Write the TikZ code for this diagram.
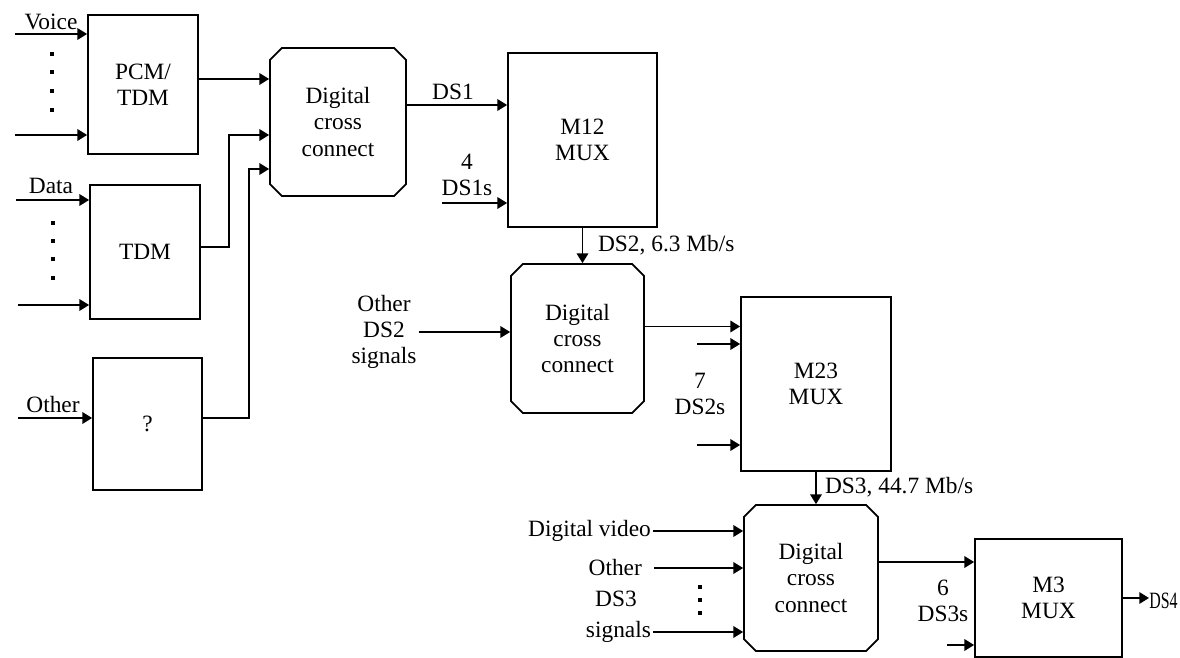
\documentclass[tikz,border=0pt]{standalone}
\usepackage{fontspec}
\setmainfont{Liberation Serif}
\usetikzlibrary{arrows.meta,shapes.misc,calc}

\begin{document}
\begin{tikzpicture}[
    x=0.02cm, y=-0.02cm,
    every node/.style={font=\fontsize{13.3}{15}\selectfont},
    block/.style={rectangle,draw,line width=1pt,align=center,inner sep=0pt},
    xconn/.style={chamfered rectangle,chamfered rectangle xsep=0.13cm,draw,line width=1pt,align=center,inner sep=0pt},
    lbl/.style={align=center,inner sep=1pt},
    arrow/.style={line width=1pt,-{Triangle[length=5.5pt,width=6.5pt]}}
]
    \useasboundingbox (0,0) rectangle (1180,658);

    % Sources
    \node[block,minimum width=2.2cm,minimum height=2.78cm] (pcm) at (143,84.5) {PCM/\\TDM};
    \node[block,minimum width=2.2cm,minimum height=2.68cm] (tdm) at (145,252) {TDM};
    \node[block,minimum width=2.18cm,minimum height=2.64cm] (qbox) at (147.5,424) {?};

    % Cross connects and muxes
    \node[xconn,minimum width=2.72cm,minimum height=2.96cm] (dcc1) at (338,122) {Digital\\cross\\connect};
    \node[block,minimum width=2.98cm,minimum height=3.48cm] (m12) at (582.5,140) {M12\\MUX};
    \node[xconn,minimum width=2.66cm,minimum height=2.98cm] (dcc2) at (577.5,338.5) {Digital\\cross\\connect};
    \node[block,minimum width=3.0cm,minimum height=3.48cm] (m23) at (816,384) {M23\\MUX};
    \node[xconn,minimum width=2.68cm,minimum height=2.92cm] (dcc3) at (811,578) {Digital\\cross\\connect};
    \node[block,minimum width=2.94cm,minimum height=2.36cm] (m3) at (1048.5,598) {M3\\MUX};

    % Labels
    \node[lbl] (voice) at (51,22) {Voice};
    \node[lbl] (data) at (51,186) {Data};
    \node[lbl] (other) at (53,405) {Other};
    \node[lbl] (ds1) at (453,92) {DS1};
    \node[lbl] (ds1s) at (467,175) {4\\DS1s};
    \node[lbl,anchor=west] (ds2) at (596,245) {DS2, 6.3 Mb/s};
    \node[lbl] (oth2) at (384,332) {Other\\DS2\\signals};
    \node[lbl] (ds2s) at (700,394) {7\\DS2s};
    \node[lbl,anchor=west] (ds3) at (823,487) {DS3, 44.7 Mb/s};
    \node[lbl,anchor=east] (video) at (653,531) {Digital video};
    \node[lbl,anchor=east] (oth3) at (644,568) {Other};
    \node[lbl] (ds3b) at (616,599) {DS3};
    \node[lbl,anchor=east] (sig3) at (653,632) {signals};
    \node[lbl] (ds3s) at (943,601) {6\\DS3s};
    \node[lbl,anchor=west,inner sep=0pt,font=\fontsize{13.3}{15}\selectfont\addfontfeatures{FakeStretch=0.68}] (ds4) at (1149,601) {DS4};

    % Free ends
    \coordinate (vin1) at (15,34);
    \coordinate (vin2) at (15,135);
    \coordinate (din1) at (16,200);
    \coordinate (din2) at (18,305);
    \coordinate (oin) at (18,418);
    \coordinate (m12in) at (442,203);
    \coordinate (m23in1) at (697,344);
    \coordinate (m23in2) at (697,445);
    \coordinate (m3in) at (947,645);
    \coordinate (o3in) at (654,568);
    \coordinate (pcmout) at ($(pcm.east)+(0,-5.5)$);
    \coordinate (tdmout) at ($(tdm.east)+(0,-5)$);
    \coordinate (qout) at ($(qbox.east)+(0,-6)$);
    \coordinate (d1out) at ($(dcc1.east)+(0,-17)$);
    \coordinate (d2out) at ($(dcc2.east)+(0,-12)$);
    \coordinate (d3out) at ($(dcc3.east)+(0,-16)$);

    % Inputs
    \draw[arrow] (vin1) -- (vin1 -| pcm.west);
    \draw[arrow] (vin2) -- (vin2 -| pcm.west);
    \draw[arrow] (din1) -- (din1 -| tdm.west);
    \draw[arrow] (din2) -- (din2 -| tdm.west);
    \draw[arrow] (oin) -- (oin -| qbox.west);

    % Into first cross connect
    \draw[arrow] (pcmout) -- (pcmout -| dcc1.west);
    \draw[arrow] (tdmout) -- ++(28,0) |- ($(dcc1.west)+(0,13)$);
    \draw[arrow] (qout) -- ++(46,0) |- ($(dcc1.west)+(0,47)$);

    % M12 stage
    \draw[arrow] (d1out) -- (d1out -| m12.west);
    \draw[arrow] (m12in) -- (m12in -| m12.west);
    \draw[arrow] (m12.south) -- (m12.south |- dcc2.north);

    % M23 stage
    \draw[arrow] (oth2.east) -- (oth2.east -| dcc2.west);
    \draw[arrow] (d2out) -- (d2out -| m23.west);
    \draw[arrow] (m23in1) -- (m23in1 -| m23.west);
    \draw[arrow] (m23in2) -- (m23in2 -| m23.west);
    \draw[arrow] (m23.south) -- (m23.south |- dcc3.north);

    % M3 stage
    \draw[arrow] (video.east) -- (video.east -| dcc3.west);
    \draw[arrow] (o3in) -- (o3in -| dcc3.west);
    \draw[arrow] (sig3.east) -- (sig3.east -| dcc3.west);
    \draw[arrow] (d3out) -- (d3out -| m3.west);
    \draw[arrow] (m3in) -- (m3in -| m3.west);
    \draw[arrow] (m3.east) -- (m3.east -| ds4.west);

    % Dots
    \foreach \y in {54,72,91,110} \fill (49.5,\y-2.2) rectangle +(4.4,4.4);
    \foreach \y in {223,241,259,278} \fill (50.5,\y-2.2) rectangle +(4.4,4.4);
    \foreach \y in {587,600,613} \fill (697.5,\y-2.2) rectangle +(4.4,4.4);
\end{tikzpicture}
\end{document}
